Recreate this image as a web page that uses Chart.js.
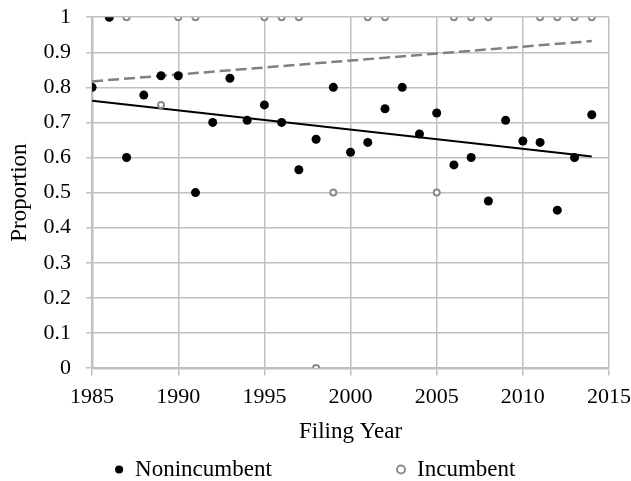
<!DOCTYPE html>
<html>
<head>
<meta charset="utf-8">
<script src="https://cdn.jsdelivr.net/npm/chart.js@4"></script>
<style>
  html, body { margin: 0; padding: 0; background: #fff; }
  #wrap { width: 631px; height: 481px; }
</style>
</head>
<body>
<div id="wrap"><canvas id="myChart" width="631" height="481"></canvas></div>
<script>
// values
const nonYears = [1985, 1986, 1987, 1988, 1989, 1990, 1991, 1992, 1993, 1994, 1995, 1996, 1997, 1998, 1999,
  2000, 2001, 2002, 2003, 2004, 2005, 2006, 2007, 2008, 2009, 2010, 2011, 2012, 2013, 2014];
const nonValues = [0.8, 1, 0.6, 0.778, 0.833, 0.833, 0.5, 0.7, 0.826, 0.706, 0.75, 0.7, 0.565, 0.652, 0.8,
  0.615, 0.643, 0.739, 0.8, 0.667, 0.727, 0.579, 0.6, 0.476, 0.706, 0.647, 0.643, 0.45, 0.6, 0.722];

const incYears = [1987, 1989, 1990, 1991, 1995, 1996, 1997, 1998, 1999, 2001, 2002, 2005, 2006, 2007, 2008,
  2011, 2012, 2013, 2014];
const incValues = [1, 0.75, 1, 1, 1, 1, 1, 0, 0.5, 1, 1, 0.5, 1, 1, 1, 1, 1, 1, 1];

// linear trendlines, end values
const trendYears = [1985, 2014];
const trendNon = [0.762, 0.603];
const trendInc = [0.817, 0.932];

const xTicks = [1985, 1990, 1995, 2000, 2005, 2010, 2015];

const toPoints = function (xs, ys) {
  return xs.map((x, i) => ({ x: x, y: ys[i] }));
};

const serif = "'Liberation Serif', 'Times New Roman', serif";
const gridGray = '#c0c0c0';
const tickFont = { family: serif, size: 22 };
const textFont = { family: serif, size: 23 };

const ctx = document.getElementById('myChart');
new Chart(ctx, {
  type: 'scatter',
  data: {
    datasets: [
      {
        label: 'Nonincumbent',
        data: toPoints(nonYears, nonValues),
        backgroundColor: '#000',
        borderColor: '#000',
        borderWidth: 0,
        pointRadius: 4.5,
        pointHoverRadius: 4.5,
        order: 1,
      },
      {
        label: 'Incumbent',
        data: toPoints(incYears, incValues),
        backgroundColor: '#fff',
        borderColor: '#8a8a8a',
        borderWidth: 2,
        pointRadius: 3,
        pointHoverRadius: 3,
        order: 2,
      },
      {
        label: 'trend-non',
        data: toPoints(trendYears, trendNon),
        showLine: true,
        borderColor: '#000',
        borderWidth: 2,
        pointRadius: 0,
        order: 3,
      },
      {
        label: 'trend-inc',
        data: toPoints(trendYears, trendInc),
        showLine: true,
        borderColor: '#808080',
        borderWidth: 2.5,
        borderDash: [11, 5],
        pointRadius: 0,
        order: 4,
      },
    ],
  },
  options: {
    responsive: false,
    animation: false,
    layout: { autoPadding: false, padding: { left: 0, right: 1, top: 0, bottom: -10 } },
    plugins: {
      tooltip: { enabled: false },
      legend: {
        position: 'bottom',
        labels: {
          generateLabels: (chart) => {
            const items = Chart.defaults.plugins.legend.labels.generateLabels(chart)
              .filter((item) => !item.text.startsWith('trend'));
            // the gap between the two entries
            items[0].text = items[0].text + '\u2003\u2003\u2003\u2003\u2003 ';
            return items;
          },
          usePointStyle: true,
          pointStyle: 'circle',
          boxWidth: 9,
          boxHeight: 5.7,
          padding: 4,
          color: '#000',
          font: textFont,
        },
      },
    },
    scales: {
      x: {
        type: 'linear',
        min: 1985,
        max: 2015,
        afterBuildTicks: (axis) => {
          axis.ticks = xTicks.map((v) => ({ value: v }));
        },
        ticks: {
          color: '#000',
          font: tickFont,
          maxRotation: 0,
          padding: 0,
          callback: (v) => String(v),
        },
        // long tick box, only the first 6px are drawn
        grid: { color: gridGray, lineWidth: 1.5, tickLength: 16, tickBorderDash: [6, 20] },
        border: { color: gridGray, width: 2.5 },
        title: {
          display: true,
          text: 'Filing Year',
          color: '#000',
          font: textFont,
          padding: { top: 8, bottom: 8 },
        },
      },
      y: {
        min: 0,
        max: 1,
        ticks: {
          stepSize: 0.1,
          color: '#000',
          font: tickFont,
          padding: 4,
          callback: (v) => String(Math.round(v * 10) / 10),
        },
        grid: { color: gridGray, lineWidth: 1.5, tickLength: 17, tickBorderDash: [0, 11, 6] },
        border: { color: gridGray, width: 2.5 },
        title: {
          display: true,
          text: 'Proportion',
          color: '#000',
          font: textFont,
          padding: { top: 6, bottom: 6 },
        },
      },
    },
  },
});
</script>
</body>
</html>
